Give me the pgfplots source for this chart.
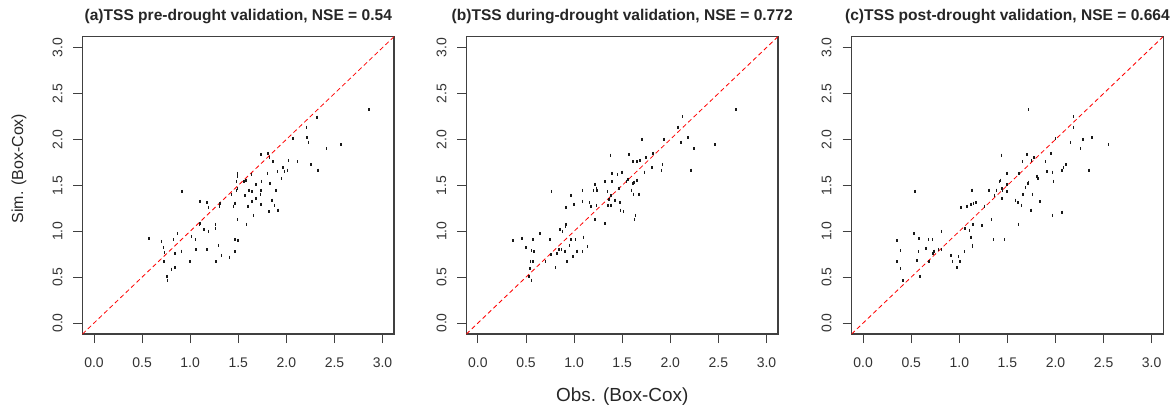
\documentclass[border=0pt]{standalone}
\usepackage{fontspec}
\setmainfont{Liberation Sans}
\usepackage{pgfplots}
\usepackage{pgfplotstable}
\pgfplotsset{compat=1.18}

\pgfplotstableread{
x y
2.862 2.323
2.317 2.244
2.210 2.135
2.214 2.016
2.231 1.969
2.066 2.005
2.569 1.940
2.417 1.896
2.259 1.726
2.331 1.665
2.114 1.755
2.021 1.770
1.734 1.831
1.807 1.849
1.824 1.806
1.862 1.759
1.966 1.694
1.979 1.647
2.010 1.665
1.907 1.647
1.803 1.629
1.948 1.571
1.831 1.520
1.741 1.542
1.686 1.506
1.638 1.621
1.562 1.545
1.493 1.629
1.493 1.600
1.483 1.542
1.579 1.556
1.614 1.448
1.641 1.430
1.734 1.444
1.731 1.404
1.686 1.357
1.893 1.444
1.493 1.466
1.428 1.404
1.483 1.444
1.572 1.386
1.641 1.325
1.603 1.274
1.734 1.292
1.848 1.339
1.876 1.281
1.910 1.231
1.817 1.212
1.659 1.173
1.466 1.307
1.452 1.274
1.307 1.307
1.303 1.270
1.103 1.325
1.176 1.310
1.190 1.260
0.914 1.433
1.493 1.126
1.586 1.075
1.262 1.075
1.262 1.031
1.097 1.071
1.103 1.086
1.141 1.017
1.190 0.999
1.014 0.941
1.055 0.908
0.866 0.970
0.828 0.908
0.572 0.923
0.703 0.890
0.724 0.822
0.734 0.767
0.841 0.753
0.910 0.782
1.059 0.800
1.172 0.796
1.293 0.847
1.466 0.905
1.497 0.901
1.469 0.775
1.324 0.738
1.410 0.717
1.266 0.666
0.997 0.666
0.728 0.666
0.845 0.601
0.807 0.586
0.762 0.507
0.766 0.467
}\tablea

\pgfplotstableread{
x y
2.683 2.323
2.128 2.248
2.083 2.135
2.110 1.969
2.186 2.016
1.934 2.001
1.703 2.001
2.462 1.940
2.245 1.896
2.214 1.665
1.379 1.828
1.569 1.831
1.614 1.755
1.655 1.755
1.686 1.766
1.745 1.802
1.821 1.849
1.917 1.723
1.907 1.661
1.807 1.694
1.731 1.643
1.393 1.629
1.452 1.614
1.497 1.643
1.545 1.545
1.559 1.567
1.655 1.556
1.624 1.535
1.614 1.520
1.597 1.448
1.617 1.401
1.672 1.401
1.469 1.469
1.393 1.538
1.321 1.538
1.217 1.509
1.231 1.469
1.241 1.440
1.203 1.444
1.348 1.430
1.383 1.386
1.362 1.350
1.424 1.339
1.476 1.310
1.483 1.231
1.514 1.212
1.352 1.281
1.383 1.281
1.638 1.173
1.628 1.126
1.321 1.079
1.217 1.126
1.234 1.281
1.162 1.310
1.176 1.270
1.086 1.444
1.086 1.325
0.969 1.390
1.000 1.292
0.914 1.260
0.766 1.433
0.914 1.075
0.910 1.046
0.852 1.017
0.879 0.999
0.648 0.970
0.459 0.923
0.366 0.894
0.572 0.905
0.748 0.905
0.966 0.908
1.014 0.905
1.097 0.937
0.952 0.847
0.845 0.803
0.869 0.803
0.907 0.782
1.028 0.782
1.086 0.775
1.141 0.829
0.497 0.818
0.559 0.785
0.586 0.775
0.759 0.742
0.824 0.756
0.986 0.720
0.545 0.673
0.572 0.666
0.703 0.666
0.924 0.666
0.807 0.601
0.541 0.590
0.531 0.510
0.559 0.467
}\tableb

\pgfplotstableread{
x y
1.719 2.323
2.187 2.248
2.187 2.135
1.998 2.005
2.287 2.001
2.380 2.016
2.156 1.969
2.260 1.896
2.553 1.940
2.346 1.665
1.440 1.828
1.705 1.831
1.774 1.802
1.750 1.770
1.657 1.755
1.953 1.849
1.895 1.755
1.912 1.647
1.967 1.643
2.067 1.661
2.084 1.694
2.112 1.723
1.981 1.542
1.805 1.600
1.819 1.574
1.622 1.629
1.498 1.629
1.416 1.542
1.430 1.556
1.719 1.535
1.716 1.520
1.688 1.477
1.498 1.506
1.447 1.444
1.443 1.462
1.498 1.430
1.364 1.390
1.385 1.448
1.309 1.448
1.130 1.448
1.660 1.401
1.760 1.401
1.443 1.357
1.585 1.339
1.609 1.310
1.647 1.281
1.836 1.321
1.746 1.231
2.070 1.209
1.970 1.173
1.616 1.075
1.147 1.307
1.120 1.296
1.171 1.310
1.078 1.274
1.020 1.260
1.261 1.274
0.537 1.433
1.333 1.126
1.237 1.060
1.144 1.075
1.058 1.028
1.106 1.013
1.120 0.937
1.137 0.847
1.137 0.832
1.054 0.778
0.916 0.738
0.992 0.720
0.930 0.666
1.006 0.666
0.975 0.601
1.354 0.908
1.471 0.905
0.813 0.999
0.530 0.970
0.579 0.919
0.679 0.905
0.723 0.905
0.355 0.894
0.651 0.814
0.389 0.785
0.575 0.775
0.737 0.782
0.782 0.803
0.813 0.803
0.727 0.756
0.682 0.666
0.355 0.666
0.561 0.677
0.389 0.590
0.589 0.507
0.417 0.463
}\tablec

\pgfplotsset{
  panel/.style={
    scale only axis,
    width=312.5pt, height=298.3pt,
    xmin=-0.12, xmax=3.12, ymin=-0.12, ymax=3.12,
    axis line style={black!75, line width=1.2pt},
    tick align=outside,
    major tick length=9pt,
    tick style={black!75, line width=1pt},
    xtick pos=bottom, ytick pos=left,
    xtick={0,0.5,1,1.5,2,2.5,3},
    ytick={0,0.5,1,1.5,2,2.5,3},
    xticklabels={0.0,0.5,1.0,1.5,2.0,2.5,3.0},
    yticklabels={0.0,0.5,1.0,1.5,2.0,2.5,3.0},
    xticklabel style={font=\fontsize{14}{14}\selectfont, text=black!80, anchor=center, yshift=-20pt},
    yticklabel style={font=\fontsize{14}{14}\selectfont, text=black!80, anchor=center, xshift=-16pt, rotate=90},
    title style={font=\bfseries\fontsize{15.6}{15.6}\selectfont, text=black!85, at={(0.5,1)}, anchor=base, yshift=9.7pt},
    clip=true,
  },
  pts/.style={only marks, mark=|, mark size=1.5pt, black!90, mark options={line width=1.6pt}},
  diag/.style={red, line width=0.8pt, dash pattern=on 4.5pt off 3pt},
}

\begin{document}
\begin{tikzpicture}[x=1pt,y=1pt]
\path (0,0) rectangle (1173,407);
\begin{axis}[panel, at={(82.7pt,72pt)}, anchor=south west,
  title={(a)TSS pre-drought validation, NSE = 0.54}]
\addplot[diag] coordinates {(-0.12,-0.12) (3.12,3.12)};
\addplot[pts] table {\tablea};
\end{axis}
\begin{axis}[panel, at={(467.7pt,72pt)}, anchor=south west,
  title={(b)TSS during-drought validation, NSE = 0.772}]
\addplot[diag] coordinates {(-0.12,-0.12) (3.12,3.12)};
\addplot[pts] table {\tableb};
\end{axis}
\begin{axis}[panel, at={(854pt,72pt)}, anchor=south west,
  title={(c)TSS post-drought validation, NSE = 0.664}]
\addplot[diag] coordinates {(-0.12,-0.12) (3.12,3.12)};
\addplot[pts] table {\tablec};
\end{axis}
\node[font=\fontsize{16}{16}\selectfont, text=black!85, rotate=90, anchor=center] at (19,238) {Sim. (Box-Cox)};
\node[font=\fontsize{19}{19}\selectfont, text=black!85, anchor=center] at (624,9) {Obs. (Box-Cox)};
\end{tikzpicture}
\end{document}
